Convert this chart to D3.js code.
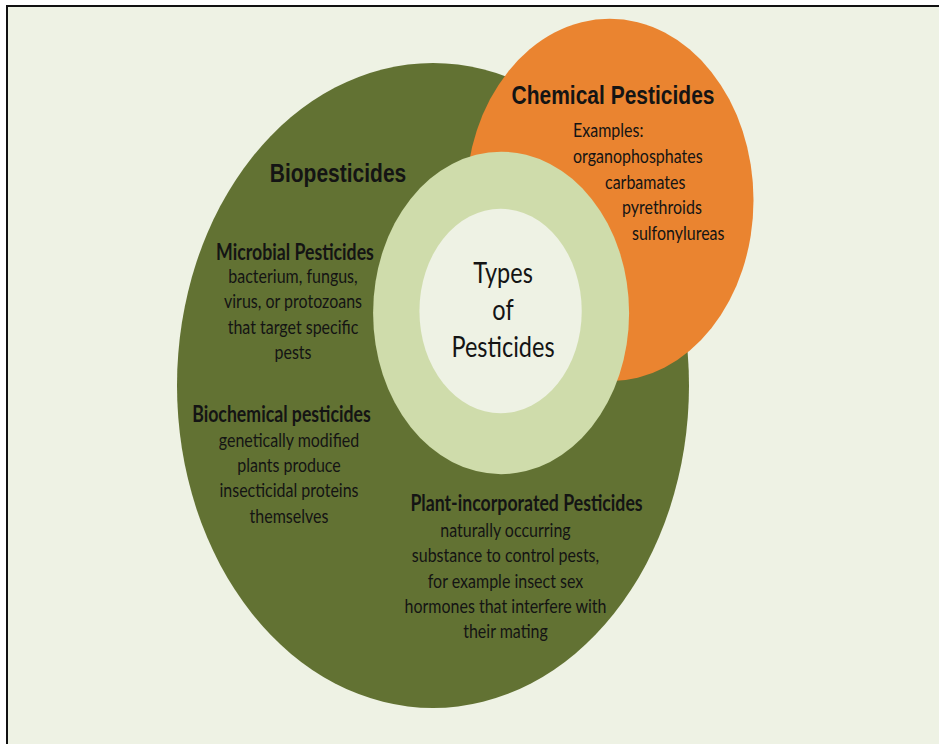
<!DOCTYPE html>
<html>
<head>
<meta charset="utf-8">
<script src="https://cdn.jsdelivr.net/npm/d3@7"></script>
<style>
  html, body { margin: 0; padding: 0; background: #ffffff; }
  svg { display: block; }
</style>
</head>
<body>
<svg id="chart" width="939" height="744"></svg>
<script>
// ---------------- DATA ----------------
// Sets in the diagram (diagram units: the Biopesticides circle is centred at 0,0 with radius 100)
const setNames   = ["Biopesticides", "Chemical Pesticides", "Types of Pesticides (ring)", "Types of Pesticides (core)"];
const setCx      = [0, 69, 26.6, 26.4];
const setCy      = [0, -57.5, -22.5, -23.1];
const setR       = [100, 56.2, 50, 31.7];
const setColors  = ["#627233", "#ea8430", "#cfdcab", "#eef2e4"];

const centerLines      = ["Types", "of", "Pesticides"];
const bioTitle         = "Biopesticides";
const chemTitle        = "Chemical Pesticides";
const chemLines        = ["Examples:", "organophosphates", "carbamates", "pyrethroids", "sulfonylureas"];
const microbialTitle   = "Microbial Pesticides";
const microbialLines   = ["bacterium, fungus,", "virus, or protozoans", "that target specific", "pests"];
const biochemTitle     = "Biochemical pesticides";
const biochemLines     = ["genetically modified", "plants produce", "insecticidal proteins", "themselves"];
const plantTitle       = "Plant-incorporated Pesticides";
const plantLines       = ["naturally occurring", "substance to control pests,", "for example insect sex", "hormones that interfere with", "their mating"];

// ---------------- LAYOUT ----------------
const W = 939, H = 744;
const K = 1.26; // vertical stretch of the original picture
const svg = d3.select("#chart");

// Frame
svg.append("rect").attr("x", 7).attr("y", 6).attr("width", W).attr("height", H)
  .attr("fill", "#eef2e4").attr("stroke", "#111").attr("stroke-width", 2);

const x = d3.scaleLinear().domain([-100, 100]).range([177, 689]);
const y = d3.scaleLinear().domain([-100, 100]).range([63, 708]);

const sets = setNames.map((n, i) => ({ name: n, cx: setCx[i], cy: setCy[i], r: setR[i], color: setColors[i] }));

svg.append("g").selectAll("ellipse").data(sets).join("ellipse")
  .attr("cx", d => x(d.cx))
  .attr("cy", d => y(d.cy))
  .attr("rx", d => x(d.r) - x(0))
  .attr("ry", d => y(d.r) - y(0))
  .attr("fill", d => d.color);

const BODY = "Lato, 'Open Sans', sans-serif";
const HEAD = "'Liberation Sans', Arial, sans-serif";
const gText = svg.append("g").attr("fill", "#141414");

function label(str, px, py, opts) {
  gText.append("text")
    .attr("transform", `translate(${px},${py}) scale(1,${K})`)
    .attr("text-anchor", opts.anchor || "middle")
    .style("font-family", opts.family)
    .style("font-size", opts.size + "px")
    .style("font-weight", opts.weight || "normal")
    .text(str);
}

const bodySize = 16, subSize = 17.7;

// Titles
label(bioTitle, 338, 182, { family: HEAD, size: 21, weight: "bold" });
label(chemTitle, 613, 104, { family: HEAD, size: 21, weight: "bold" });

// Chemical examples (stair-stepped, following the circle edge)
const chemX = [573, 573, 605, 622, 632];
const chemY = [137, 163, 189, 214, 240];
chemLines.forEach((t, i) => label(t, chemX[i], chemY[i], { family: BODY, size: bodySize, anchor: "start" }));

// Microbial
label(microbialTitle, 295, 260, { family: BODY, size: subSize, weight: "bold" });
microbialLines.forEach((t, i) => label(t, 293, 283 + i * 25.3, { family: BODY, size: bodySize }));

// Biochemical
label(biochemTitle, 281.5, 422, { family: BODY, size: subSize, weight: "bold" });
biochemLines.forEach((t, i) => label(t, 289, 447 + i * 25.2, { family: BODY, size: bodySize }));

// Plant-incorporated
label(plantTitle, 526.5, 511, { family: BODY, size: subSize, weight: "bold" });
plantLines.forEach((t, i) => label(t, 505.5, 537 + i * 25.3, { family: BODY, size: bodySize }));

// Centre
centerLines.forEach((t, i) => label(t, 503, 283 + i * 37, { family: BODY, size: 23.5 }));
</script>
</body>
</html>
